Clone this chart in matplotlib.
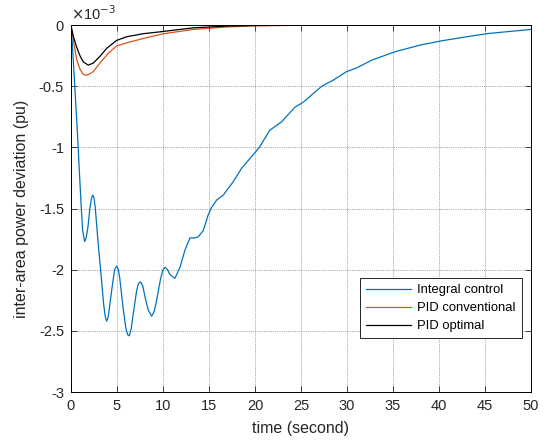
import matplotlib
matplotlib.use("Agg")
import matplotlib.pyplot as plt

plt.rcParams['font.family'] = ['Liberation Sans', 'DejaVu Sans']
plt.rcParams['axes.unicode_minus'] = False

# values, y in units of 1e-3 pu
t_int = [0, 0.15, 0.4, 0.69, 0.87, 1.12, 1.27, 1.49, 1.65, 1.85, 2.07, 2.22, 2.36, 2.5, 2.64,
         2.93, 3.22, 3.55, 3.72, 3.88, 4.04, 4.2, 4.53, 4.75, 4.96, 5.12, 5.29, 5.65, 5.95,
         6.15, 6.34, 6.55, 6.77, 7.14, 7.35, 7.57, 7.8, 8.04, 8.4, 8.77, 9.05, 9.31, 9.75,
         10.0, 10.25, 10.5, 10.76, 11.3, 11.85, 12.39, 12.93, 13.48, 13.84, 14.38, 14.92,
         15.29, 15.84, 16.55, 17.64, 18.55, 19.46, 20.47, 21.6, 22.9, 24.35, 25.25, 27.25,
         28.5, 29.96, 31.05, 32.7, 35.2, 37.9, 40.3, 43.0, 45.4, 50.0]
y_int = [0, -0.15, -0.48, -0.86, -1.13, -1.49, -1.68, -1.77, -1.74, -1.65, -1.49, -1.42, -1.39,
         -1.41, -1.49, -1.76, -2.0, -2.28, -2.38, -2.42, -2.39, -2.30, -2.11, -2.0, -1.97,
         -1.99, -2.06, -2.30, -2.47, -2.53, -2.54, -2.48, -2.36, -2.17, -2.11, -2.10, -2.13,
         -2.22, -2.33, -2.38, -2.34, -2.25, -2.07, -2.0, -1.98, -2.0, -2.04, -2.07, -1.98,
         -1.84, -1.74, -1.74, -1.73, -1.68, -1.55, -1.49, -1.43, -1.39, -1.28, -1.17, -1.09,
         -1.0, -0.86, -0.79, -0.67, -0.63, -0.50, -0.45, -0.38, -0.35, -0.286, -0.218,
         -0.164, -0.128, -0.095, -0.068, -0.035]

t_pid = [0, 0.25, 0.62, 0.98, 1.3, 1.65, 2.0, 2.43, 3.15, 4.06, 4.96, 6.05, 7.86, 10.0, 13.3,
         16.9, 20.0, 25.0, 30.0, 50.0]
y_pid = [0, -0.12, -0.28, -0.36, -0.40, -0.41, -0.40, -0.38, -0.31, -0.23, -0.17, -0.145,
         -0.109, -0.071, -0.035, -0.015, -0.006, -0.001, 0, 0]

t_opt = [0, 0.25, 0.62, 0.98, 1.34, 1.88, 2.43, 3.15, 3.88, 4.96, 6.05, 7.86, 10.0, 13.3,
         16.9, 20.0, 25.0, 30.0, 50.0]
y_opt = [0, -0.09, -0.18, -0.25, -0.30, -0.327, -0.31, -0.255, -0.19, -0.125, -0.095,
         -0.07, -0.052, -0.022, -0.008, -0.003, 0, 0, 0]

labels = ['Integral control', 'PID conventional', 'PID optimal']
colors = ['#0072BD', '#D95319', 'black']

fig = plt.figure(figsize=(5.5, 4.41), dpi=100)
ax = fig.add_axes([0.129, 0.111, 0.8365, 0.832])

ax.plot(t_int, y_int, color=colors[0], lw=0.9, label=labels[0])
ax.plot(t_pid, y_pid, color=colors[1], lw=0.9, label=labels[1])
ax.plot(t_opt, y_opt, color=colors[2], lw=0.9, label=labels[2])

ax.set_xlim(0, 50)
ax.set_ylim(-3, 0)
ax.set_xticks(range(0, 51, 5))
ax.set_yticks([-3, -2.5, -2, -1.5, -1, -0.5, 0])
ax.set_yticklabels(['-3', '-2.5', '-2', '-1.5', '-1', '-0.5', '0'])
ax.grid(True, color='#8c8c8c', linestyle=(0, (1, 1.2)), linewidth=0.6)
ax.tick_params(direction='in', top=True, right=True, labelsize=10.5, length=4, width=0.6,
               pad=5, colors='#262626')
for s in ax.spines.values():
    s.set_linewidth(0.7)

ax.set_xlabel('time (second)', fontsize=11.5, labelpad=6, color='#262626')
ax.set_ylabel('inter-area power deviation (pu)', fontsize=11.5, labelpad=7, color='#262626')
ax.text(0.0, 1.005, r'$\times$10$^{-3}$', transform=ax.transAxes, fontsize=10.5,
        ha='left', va='bottom', color='#262626')

leg = ax.legend(loc='lower right', bbox_to_anchor=(0.988, 0.136), fontsize=9.4,
                fancybox=False, edgecolor='#262626', framealpha=1, handlelength=3.4,
                borderpad=0.45, labelspacing=0.45, handletextpad=0.5, borderaxespad=0.3)
leg.get_frame().set_linewidth(0.7)

fig.savefig('out.png', dpi=100)
